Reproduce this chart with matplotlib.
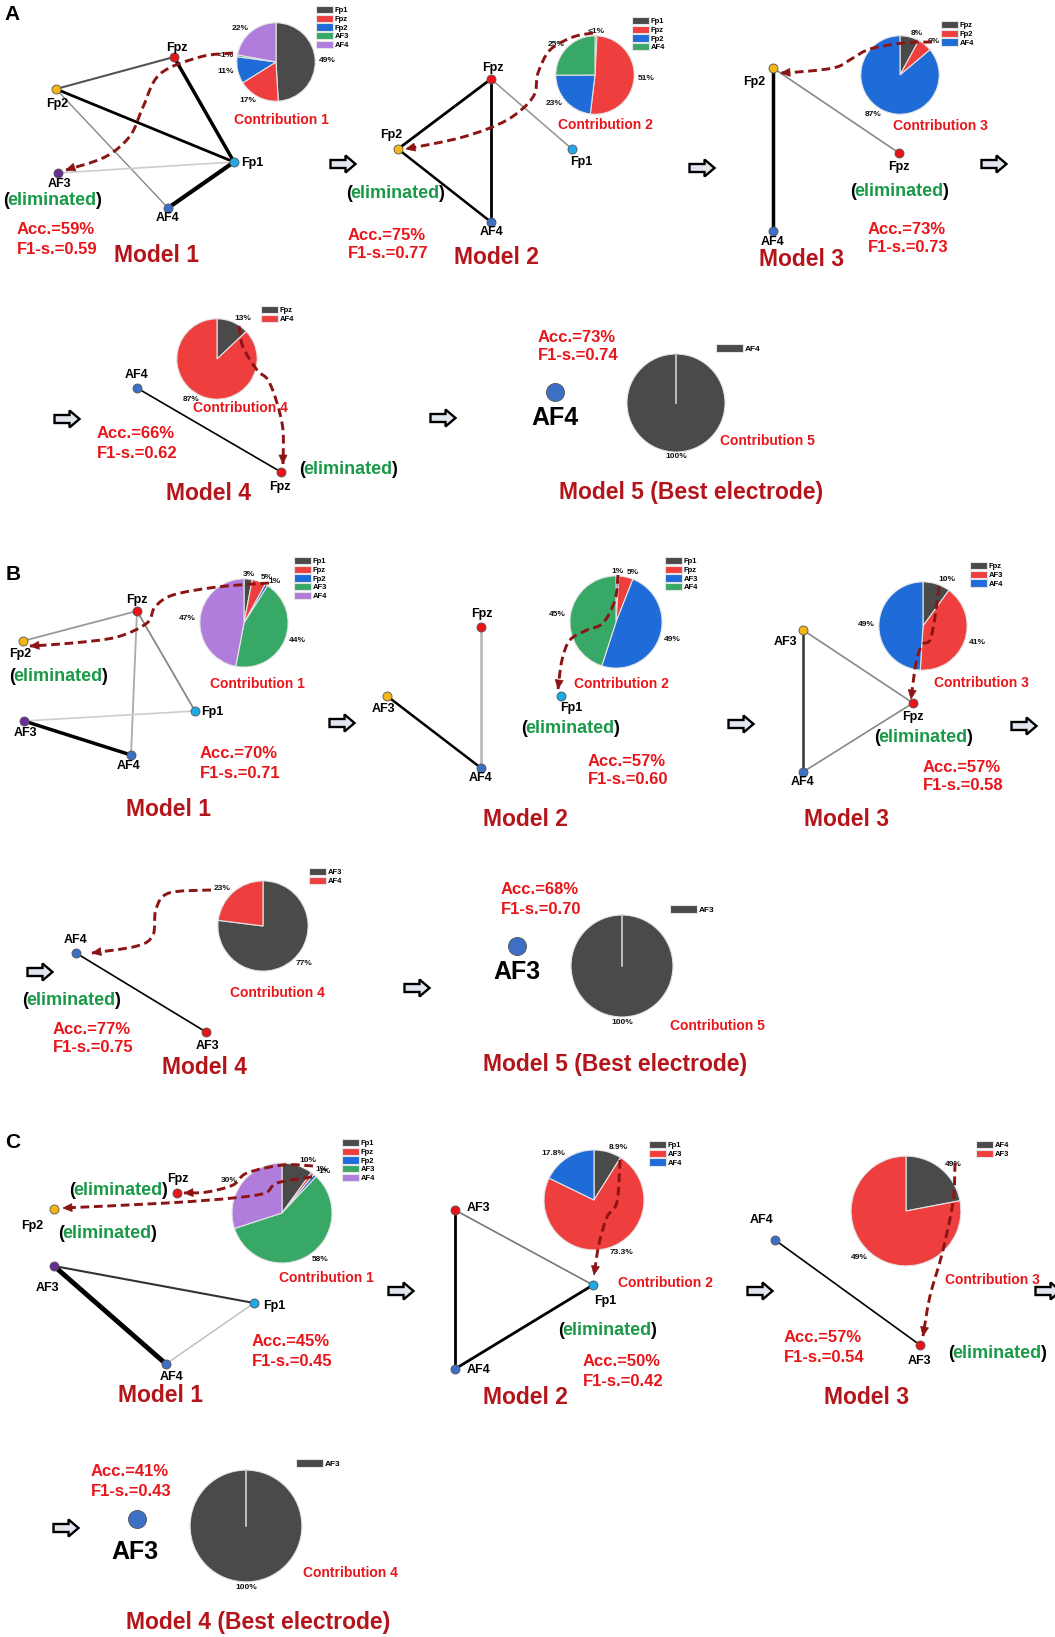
import matplotlib
matplotlib.use('Agg')
import matplotlib.pyplot as plt
import matplotlib.patches as mpatches
from matplotlib.path import Path
import numpy as np

plt.rcParams['font.family'] = ['Liberation Sans', 'DejaVu Sans']
plt.rcParams['font.weight'] = 'bold'

W, H = 1055, 1637

# ---------------- data ----------------
titles = ['Model 1', 'Model 2', 'Model 3', 'Model 4', 'Model 5 (Best electrode)',
          'Model 1', 'Model 2', 'Model 3', 'Model 4', 'Model 5 (Best electrode)',
          'Model 1', 'Model 2', 'Model 3', 'Model 4 (Best electrode)']
acc = [59, 75, 73, 66, 73, 70, 57, 57, 77, 68, 45, 50, 57, 41]
f1 = [0.59, 0.77, 0.73, 0.62, 0.74, 0.71, 0.60, 0.58, 0.75, 0.70, 0.45, 0.42, 0.54, 0.43]
contrib = [1, 2, 3, 4, 5, 1, 2, 3, 4, 5, 1, 2, 3, 4]

pie_names = [
    ['Fp1', 'Fpz', 'Fp2', 'AF3', 'AF4'],
    ['Fp1', 'Fpz', 'Fp2', 'AF4'],
    ['Fpz', 'Fp2', 'AF4'],
    ['Fpz', 'AF4'],
    ['AF4'],
    ['Fp1', 'Fpz', 'Fp2', 'AF3', 'AF4'],
    ['Fp1', 'Fpz', 'AF3', 'AF4'],
    ['Fpz', 'AF3', 'AF4'],
    ['AF3', 'AF4'],
    ['AF3'],
    ['Fp1', 'Fpz', 'Fp2', 'AF3', 'AF4'],
    ['Fp1', 'AF3', 'AF4'],
    ['AF4', 'AF3'],
    ['AF3'],
]
pie_values = [
    [49, 17, 11, 0.8, 22],
    [0.8, 51, 23, 25],
    [8, 6, 87],
    [13, 87],
    [100],
    [3, 5, 1, 44, 47],
    [1, 5, 49, 45],
    [10, 41, 49],
    [77, 23],
    [100],
    [10, 1, 1, 58, 30],
    [8.9, 73.3, 17.8],
    [22, 78],
    [100],
]
pie_labels = [
    ['49%', '17%', '11%', '<1%', '22%'],
    ['<1%', '51%', '23%', '25%'],
    ['8%', '6%', '87%'],
    ['13%', '87%'],
    ['100%'],
    ['3%', '5%', '1%', '44%', '47%'],
    ['1%', '5%', '49%', '45%'],
    ['10%', '41%', '49%'],
    ['77%', '23%'],
    ['100%'],
    ['10%', '1%', '1%', '58%', '30%'],
    ['8.9%', '73.3%', '17.8%'],
    ['49%', '49%'],
    ['100%'],
]

# ---------------- styles ----------------
PIE_COLORS = ['#4a4a4a', '#ef3e3e', '#1f6bd8', '#37a865', '#b07ddc']
RN, YE, CY, PU, BL = '#e8141a', '#f2b715', '#1fa9e6', '#6a2c96', '#3d6fc5'
ACC_RED = '#e8161b'
TITLE_RED = '#b3151b'
GREEN = '#1a9a48'
DARKRED = '#8b1414'
K = 'black'

# ---------------- layout (pixel coordinates) ----------------
L = [
    dict(pie=(276, 62, 40), leg=(316, 6), acc=(17, 230), con=(281, 120), title=(156, 256),
         nodes={'Fpz': (174, 57, RN), 'Fp2': (56, 89, YE), 'Fp1': (234, 162, CY),
                'AF3': (58, 173, PU), 'AF4': (168, 208, BL)},
         labels={'Fpz': (177, 48, 'center'), 'Fp2': (57, 104, 'center'), 'Fp1': (241, 163, 'left'),
                 'AF3': (60, 184, 'center'), 'AF4': (168, 218, 'center')},
         edges=[('Fpz', 'Fp2', '#555555', 1.5), ('Fpz', 'Fp1', K, 2.5), ('Fp2', 'Fp1', K, 2.0),
                ('Fp2', 'AF4', '#888888', 1.0), ('Fp1', 'AF3', '#cccccc', 1.2), ('Fp1', 'AF4', K, 3.0)],
         elim=[(52, 200)],
         curves=[[(233, 53), (200, 57), (160, 74), (143, 107), (130, 136), (105, 157), (66, 170)]]),
    dict(pie=(595, 75, 40), leg=(632, 17), acc=(348, 235), con=(605, 125), title=(496, 258),
         nodes={'Fpz': (491, 79, RN), 'Fp2': (398, 149, YE), 'Fp1': (572, 149, CY), 'AF4': (491, 222, BL)},
         labels={'Fpz': (493, 68, 'center'), 'Fp2': (391, 135, 'center'), 'Fp1': (581, 162, 'center'),
                 'AF4': (492, 232, 'center')},
         edges=[('Fpz', 'Fp2', K, 2.0), ('Fpz', 'AF4', K, 2.0), ('Fp2', 'AF4', K, 1.8),
                ('Fpz', 'Fp1', '#999999', 1.2)],
         elim=[(395, 193)],
         curves=[[(593, 33), (573, 37), (550, 50), (538, 73), (533, 97), (507, 120), (463, 137), (406, 149)]]),
    dict(pie=(900, 75, 40), leg=(941, 21), acc=(868, 229), con=(940, 126), title=(802, 260),
         nodes={'Fp2': (773, 68, YE), 'AF4': (773, 231, BL), 'Fpz': (899, 153, RN)},
         labels={'Fp2': (754, 82, 'center'), 'AF4': (773, 242, 'center'), 'Fpz': (899, 167, 'center')},
         edges=[('Fp2', 'AF4', K, 2.5), ('Fp2', 'Fpz', '#888888', 1.2)],
         elim=[(899, 191)],
         curves=[[(932, 42), (903, 43), (870, 49), (853, 58), (837, 67), (810, 71), (781, 73)]]),
    dict(pie=(217, 359, 41), leg=(261, 306), acc=(97, 434), con=(240, 408), title=(208, 493),
         nodes={'AF4': (137, 388, BL), 'Fpz': (281, 472, RN)},
         labels={'AF4': (137, 375, 'center'), 'Fpz': (280, 487, 'center')},
         edges=[('AF4', 'Fpz', K, 1.2)],
         elim=[(348, 469)],
         curves=[[(239, 326), (243, 347), (257, 370), (268, 380), (277, 403), (283, 430), (283, 464)]]),
    dict(pie=(676, 403, 50), leg=(716, 344), acc=(538, 337), con=(767, 441), title=(691, 493),
         nodes={'AF4': (555, 392, BL)}, labels={'AF4': (555, 418, 'center')},
         edges=[], elim=[], curves=[], big=True),
    dict(pie=(244, 623, 45), leg=(294, 557), acc=(200, 754), con=(257, 684), title=(169, 810),
         nodes={'Fpz': (137, 611, RN), 'Fp2': (23, 641, YE), 'Fp1': (195, 711, CY),
                'AF3': (24, 721, PU), 'AF4': (131, 755, BL)},
         labels={'Fpz': (137, 600, 'center'), 'Fp2': (20, 654, 'center'), 'Fp1': (201, 712, 'left'),
                 'AF3': (25, 733, 'center'), 'AF4': (129, 766, 'center')},
         edges=[('Fpz', 'Fp2', '#999999', 1.3), ('Fpz', 'Fp1', '#888888', 1.3), ('Fpz', 'AF4', '#aaaaaa', 1.3),
                ('Fp1', 'AF3', '#cccccc', 1.2), ('AF3', 'AF4', K, 2.5)],
         elim=[(58, 676)],
         curves=[[(269, 583), (217, 587), (173, 595), (155, 607), (147, 623), (117, 637), (73, 643), (30, 646)]]),
    dict(pie=(616, 622, 47), leg=(665, 557), acc=(588, 761), con=(621, 684), title=(525, 820),
         nodes={'Fpz': (481, 627, RN), 'AF3': (387, 696, YE), 'AF4': (481, 768, BL), 'Fp1': (561, 696, CY)},
         labels={'Fpz': (482, 614, 'center'), 'AF3': (384, 709, 'center'), 'AF4': (481, 778, 'center'),
                 'Fp1': (571, 708, 'center')},
         edges=[('Fpz', 'AF4', '#bbbbbb', 2.0), ('AF3', 'AF4', K, 1.8)],
         elim=[(570, 728)],
         curves=[[(618, 575), (615, 600), (603, 623), (587, 630), (570, 640), (562, 660), (558, 689)]]),
    dict(pie=(923, 626, 45), leg=(970, 562), acc=(923, 767), con=(981, 683), title=(847, 820),
         nodes={'AF3': (803, 630, YE), 'AF4': (803, 772, BL), 'Fpz': (913, 703, RN)},
         labels={'AF3': (786, 642, 'center'), 'AF4': (803, 782, 'center'), 'Fpz': (913, 717, 'center')},
         edges=[('AF3', 'AF4', '#333333', 1.8), ('AF3', 'Fpz', '#888888', 1.2), ('AF4', 'Fpz', '#888888', 1.2)],
         elim=[(923, 737)],
         curves=[[(939, 587), (935, 617), (930, 640), (922, 645), (916, 663), (911, 699)]]),
    dict(pie=(263, 926, 46), leg=(309, 868), acc=(53, 1029), con=(277, 993), title=(204, 1068),
         nodes={'AF4': (76, 953, BL), 'AF3': (206, 1032, RN)},
         labels={'AF4': (76, 940, 'center'), 'AF3': (208, 1046, 'center')},
         edges=[('AF4', 'AF3', K, 1.2)],
         elim=[(71, 1000)],
         curves=[[(211, 890), (169, 893), (156, 909), (153, 935), (137, 946), (92, 953)]]),
    dict(pie=(622, 966, 52), leg=(670, 905), acc=(501, 890), con=(717, 1026), title=(615, 1064),
         nodes={'AF3': (517, 946, BL)}, labels={'AF3': (517, 972, 'center')},
         edges=[], elim=[], curves=[], big=True),
    dict(pie=(282, 1213, 51), leg=(342, 1139), acc=(252, 1342), con=(326, 1278), title=(160, 1395),
         nodes={'Fpz': (177, 1193, RN), 'Fp2': (54, 1209, YE), 'AF3': (54, 1266, PU),
                'Fp1': (254, 1303, CY), 'AF4': (166, 1364, BL)},
         labels={'Fpz': (178, 1179, 'center'), 'Fp2': (32, 1226, 'center'), 'AF3': (47, 1288, 'center'),
                 'Fp1': (263, 1306, 'left'), 'AF4': (172, 1377, 'center')},
         edges=[('AF3', 'Fp1', '#333333', 1.5), ('AF3', 'AF4', K, 3.5), ('Fp1', 'AF4', '#bbbbbb', 1.0)],
         elim=[(118, 1190), (107, 1233)],
         curves=[[(313, 1166), (283, 1165), (247, 1173), (233, 1185), (207, 1192), (184, 1193)],
                 [(312, 1177), (277, 1183), (265, 1193), (233, 1198), (167, 1203), (63, 1208)]]),
    dict(pie=(594, 1200, 51), leg=(649, 1141), acc=(583, 1362), con=(665, 1283), title=(525, 1397),
         nodes={'AF3': (455, 1210, RN), 'AF4': (455, 1369, BL), 'Fp1': (593, 1285, CY)},
         labels={'AF3': (467, 1208, 'left'), 'AF4': (467, 1370, 'left'), 'Fp1': (605, 1301, 'center')},
         edges=[('AF3', 'AF4', K, 2.0), ('AF4', 'Fp1', K, 2.0), ('AF3', 'Fp1', '#777777', 1.2)],
         elim=[(607, 1330)],
         curves=[[(620, 1160), (617, 1202), (607, 1217), (599, 1244), (594, 1275)]]),
    dict(pie=(906, 1211, 56), leg=(976, 1141), acc=(784, 1338), con=(992, 1280), title=(867, 1397),
         nodes={'AF4': (775, 1240, BL), 'AF3': (920, 1345, RN)},
         labels={'AF4': (762, 1220, 'center'), 'AF3': (920, 1361, 'center')},
         edges=[('AF4', 'AF3', K, 1.2)],
         elim=[(997, 1353)],
         curves=[[(955, 1163), (953, 1202), (942, 1254), (930, 1296), (923, 1336)]]),
    dict(pie=(246, 1526, 57), leg=(296, 1459), acc=(91, 1472), con=(350, 1573), title=(258, 1622),
         nodes={'AF3': (137, 1519, BL)}, labels={'AF3': (135, 1552, 'center')},
         edges=[], elim=[], curves=[], big=True),
]

block_arrows = [(343, 164), (702, 168), (994, 164), (67, 419), (443, 418),
                (342, 723), (741, 724), (1024, 726), (40, 972), (417, 988),
                (401, 1291), (760, 1291), (1048, 1291), (66, 1528)]
panel_letters = [('A', 12, 15), ('B', 13, 574), ('C', 13, 1143)]

# ---------------- drawing ----------------
fig = plt.figure(figsize=(W / 100, H / 100), dpi=100)
ax = fig.add_axes([0, 0, 1, 1])
ax.set_xlim(0, W)
ax.set_ylim(H, 0)
ax.axis('off')
ax.set_zorder(10)
ax.patch.set_alpha(0)
renderer = fig.canvas.get_renderer()


def smooth_path(pts):
    pts = np.array(pts, float)
    verts, codes = [pts[0]], [Path.MOVETO]
    n = len(pts)
    for i in range(n - 1):
        p0, p1, p2, p3 = pts[max(i - 1, 0)], pts[i], pts[i + 1], pts[min(i + 2, n - 1)]
        c1 = p1 + (p2 - p0) / 6
        c2 = p2 - (p3 - p1) / 6
        verts += [c1, c2, p2]
        codes += [Path.CURVE4] * 3
    return Path(verts, codes), verts[-1] - verts[-2]


def dashed_arrow(pts):
    path, d = smooth_path(pts)
    ax.add_patch(mpatches.PathPatch(path, fill=False, ec=DARKRED, lw=2.1,
                                    ls=(0, (3, 1.6)), capstyle='butt', zorder=6))
    tip = np.array(pts[-1], float)
    d = d / np.hypot(*d)
    nrm = np.array([-d[1], d[0]])
    base = tip - d * 9
    ax.add_patch(mpatches.Polygon([tip, base + nrm * 4, base - nrm * 4], closed=True,
                                  fc=DARKRED, ec=DARKRED, lw=0.5, zorder=6))


def eliminated(x, y):
    t = ax.text(x, y, 'eliminated', color=GREEN, fontsize=13, ha='center', va='baseline', zorder=7)
    w = t.get_window_extent(renderer=renderer).width
    ax.text(x - w / 2 + 1.5, y, '(', color=K, fontsize=13, ha='right', va='baseline', zorder=7)
    ax.text(x + w / 2 - 1.5, y, ')', color=K, fontsize=13, ha='left', va='baseline', zorder=7)


def block_arrow(x, y):
    ax.add_patch(mpatches.FancyArrow(x - 12.5, y, 25, 0, width=8, head_width=17, head_length=10,
                                     length_includes_head=True, fc='#e2e7ef', ec=K, lw=1.7, zorder=5))


for i, lay in enumerate(L):
    big = lay.get('big', False)
    # pie chart of contributions
    cx, cy, r = lay['pie']
    pax = fig.add_axes([(cx - r) / W, 1 - (cy + r) / H, 2 * r / W, 2 * r / H])
    cols = PIE_COLORS[:len(pie_values[i])]
    wedges, texts = pax.pie(pie_values[i], colors=cols, startangle=90, counterclock=False,
                            labels=pie_labels[i], labeldistance=1.1,
                            wedgeprops=dict(edgecolor='#e4e4e4', linewidth=0.8),
                            textprops=dict(fontsize=6, fontweight='bold', color='#111111'))
    for t in texts:
        if abs(t.get_position()[0]) < 0.15:
            t.set_ha('center')
    if len(pie_values[i]) == 1:
        pax.plot([0, 0], [0, 1], color='#cfcfcf', lw=1.2)
    pax.set_xlim(-1.02, 1.02)
    pax.set_ylim(-1.02, 1.02)
    pax.set_aspect('equal')
    pax.axis('off')
    lx, ly = lay['leg']
    pax.legend(wedges, pie_names[i], loc='upper left', bbox_to_anchor=(lx / W, 1 - ly / H),
               bbox_transform=fig.transFigure, frameon=False,
               prop=dict(size=6 if big else 5.5, weight='bold'),
               handlelength=3.2 if big else 2.2, handleheight=1.1, labelspacing=0.05, borderpad=0,
               borderaxespad=0, handletextpad=0.25)

    # electrode graph
    nodes = lay['nodes']
    for a, b, c, lw in lay['edges']:
        ax.plot([nodes[a][0], nodes[b][0]], [nodes[a][1], nodes[b][1]], color=c, lw=lw,
                solid_capstyle='round', zorder=2)
    for name, (x, y, c) in nodes.items():
        ax.plot(x, y, 'o', ms=13 if big else 6.5, mfc=c, mec='#555555', mew=0.6, zorder=3)
        lxn, lyn, ha = lay['labels'][name]
        ax.text(lxn, lyn, name, fontsize=18 if big else 9, ha=ha, va='center', color=K, zorder=4)

    for x, y in lay['elim']:
        eliminated(x, y + 5)
    for pts in lay['curves']:
        dashed_arrow(pts)

    ax_, ay_ = lay['acc']
    ax.text(ax_, ay_, f'Acc.={acc[i]}%', color=ACC_RED, fontsize=12, ha='left', va='center', zorder=7)
    ax.text(ax_, ay_ + 19, f'F1-s.={f1[i]:.2f}', color=ACC_RED, fontsize=12, ha='left', va='center', zorder=7)
    ax.text(*lay['con'], f'Contribution {contrib[i]}', color=ACC_RED, fontsize=10,
            ha='center', va='center', zorder=7)
    ax.text(*lay['title'], titles[i], color=TITLE_RED, fontsize=16.5, ha='center', va='center', zorder=7)

for x, y in block_arrows:
    block_arrow(x, y)
for s, x, y in panel_letters:
    ax.text(x, y, s, fontsize=15, ha='center', va='center', color=K)

fig.savefig('out.png', dpi=100)
